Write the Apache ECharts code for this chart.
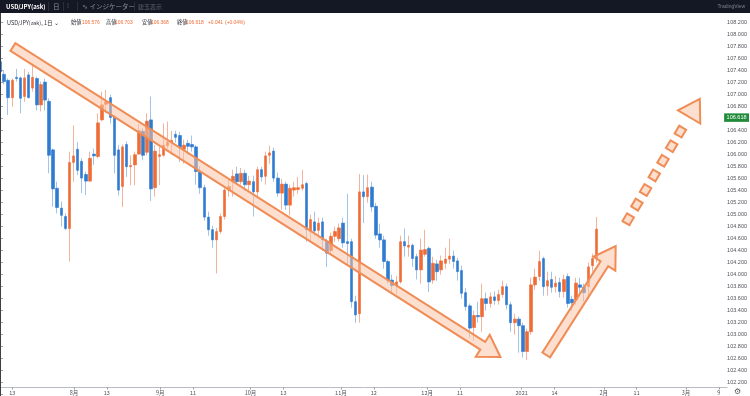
<!DOCTYPE html>
<html><head><meta charset="utf-8">
<script src="https://cdn.jsdelivr.net/npm/echarts@6/dist/echarts.min.js"></script>
<style>html,body{margin:0;padding:0;background:#fff;overflow:hidden}#c{width:750px;height:396px}</style>
</head><body><div id="c"></div>
<script>
// ---- data (USD/JPY ask, daily) ----
const openP  = [107.55,107.34,107.24,106.95,107.29,107.28,106.97,107.33,107.11,107.27,106.83,107.21,106.89,106.08,105.44,105.11,104.97,104.77,105.87,106.09,
105.89,105.67,105.56,106.01,105.97,106.58,106.84,106.95,106.63,106.08,105.47,106.17,105.80,105.83,106.01,106.39,106.04,106.58,105.45,105.97,
105.99,106.15,106.21,106.34,106.32,106.09,106.19,106.17,106.13,105.72,105.45,104.96,104.75,104.58,104.72,104.97,105.41,105.55,105.68,105.55,
105.69,105.50,105.55,105.38,105.75,105.64,105.99,106.06,105.61,105.36,105.51,105.16,105.41,105.42,105.44,105.52,104.72,104.88,104.74,104.88,
104.56,104.40,104.64,104.60,104.86,104.55,104.55,103.55,103.35,105.38,105.30,105.46,105.14,104.68,104.58,104.22,103.91,103.82,103.88,104.55,
104.46,104.49,104.30,104.08,104.34,104.44,103.91,104.18,104.08,104.19,104.26,104.31,104.23,104.07,103.70,103.48,103.12,103.32,103.30,103.60,
103.52,103.63,103.57,103.67,103.80,103.50,103.20,103.26,103.15,102.72,103.05,103.83,103.97,104.27,103.81,103.92,103.80,103.87,103.72,103.97,
103.59,103.58,103.83,103.79,103.80,104.15,104.27];
const closeP = [107.38,107.22,106.95,107.24,107.27,106.94,107.28,106.95,107.29,106.83,107.17,106.91,105.99,105.43,105.12,104.99,104.77,105.87,105.98,105.74,
105.61,105.56,105.94,105.98,106.53,106.83,106.88,106.62,105.99,105.41,106.13,105.80,105.82,106.00,106.40,105.99,106.56,105.43,106.06,106.00,
106.16,106.21,106.24,106.29,106.12,106.16,106.14,106.13,105.72,105.45,104.96,104.75,104.58,104.72,104.97,105.41,105.47,105.64,105.55,105.69,
105.50,105.56,105.38,105.75,105.63,105.98,106.03,105.61,105.36,105.51,105.16,105.44,105.45,105.45,105.50,104.75,104.92,104.73,104.86,104.58,
104.36,104.64,104.72,104.78,104.53,104.52,103.55,103.33,105.38,105.30,105.45,105.13,104.66,104.58,104.22,103.91,103.82,103.88,104.55,104.48,
104.49,104.27,104.08,104.41,104.42,103.88,104.19,104.05,104.23,104.26,104.31,104.22,104.05,103.69,103.47,103.11,103.32,103.30,103.60,103.52,
103.63,103.57,103.67,103.80,103.50,103.20,103.26,103.15,102.72,103.05,103.83,103.96,104.22,103.80,103.90,103.79,103.86,103.72,103.92,103.52,
103.53,103.86,103.79,103.70,104.13,104.27,104.76];
const lowP   = [107.30,107.17,106.66,106.80,107.22,106.69,106.88,106.94,107.05,106.74,106.72,106.74,105.69,105.13,105.02,104.80,104.74,104.22,105.55,105.66,
105.36,105.33,105.55,105.83,105.94,106.56,106.70,106.52,105.69,105.32,105.13,105.63,105.49,105.49,106.00,105.91,105.99,105.23,105.30,105.49,
105.97,106.10,106.00,106.20,105.88,105.85,106.00,106.05,105.50,105.35,104.90,104.65,104.45,104.02,104.68,104.92,105.30,105.30,105.50,105.50,
105.40,105.40,104.97,105.30,105.55,105.50,105.85,105.55,105.30,105.08,105.08,104.99,105.30,105.35,105.40,104.55,104.55,104.65,104.60,104.40,
104.13,104.35,104.55,104.55,104.45,104.15,103.45,103.20,103.20,104.86,105.20,105.05,104.60,104.45,104.10,103.85,103.70,103.68,103.85,104.30,
104.30,104.13,103.92,103.85,104.30,103.71,103.85,103.90,104.00,104.10,104.18,104.10,103.90,103.60,103.40,102.95,102.90,103.20,103.05,103.40,
103.45,103.50,103.50,103.62,103.42,103.05,103.00,102.70,102.62,102.58,103.00,103.75,103.90,103.65,103.65,103.70,103.70,103.62,103.62,103.45,
103.40,103.50,103.70,103.55,103.60,104.05,104.20];
const highP  = [107.62,107.41,107.27,107.27,107.43,107.30,107.43,107.38,107.52,107.30,107.22,107.27,106.94,106.10,105.55,105.22,105.02,106.05,106.49,106.21,
105.94,105.72,106.05,106.10,106.69,107.05,107.08,107.00,106.66,106.16,106.17,106.22,105.99,106.05,106.51,106.44,106.69,106.97,106.16,106.13,
106.52,106.55,106.40,106.40,106.38,106.25,106.25,106.32,106.16,105.80,105.50,105.05,104.82,104.78,105.02,105.47,105.60,105.75,105.80,105.78,
105.75,105.65,105.65,105.80,105.80,106.05,106.15,106.12,105.70,105.60,105.55,105.50,105.55,105.63,105.75,105.55,105.00,105.05,104.95,104.95,
104.60,104.70,104.80,104.85,104.95,105.35,104.60,103.65,105.68,105.66,105.67,105.55,105.20,104.85,104.65,104.25,104.00,103.98,104.65,104.77,
104.65,104.52,104.35,104.60,104.75,104.47,104.30,104.25,104.32,104.45,104.60,104.40,104.28,104.15,103.78,103.52,103.40,103.55,103.85,103.70,
103.70,103.72,103.75,103.90,103.85,103.55,103.35,103.30,103.20,103.10,103.95,104.10,104.40,104.30,104.05,104.05,103.98,103.95,104.00,104.02,
103.65,103.95,103.95,103.85,104.20,104.35,104.96];

// axis tick labels [category index, text]
const tickLabels = [[3,'13'],[18,'8月'],[26,'13'],[39,'9月'],[47,'11'],[61,'10月'],[69,'13'],[83,'11月'],[91,'12'],
  [104,'12月'],[112,'11'],[127,'2021'],[135,'14'],[147,'2月'],[155,'11'],[167,'3月'],[175,'9']];
const lastPrice = 106.618;
const ohlcHeader = [['始値','106.576'],['高値','106.703'],['安値','106.368'],['終値','106.618']];
const changeText = ['+0.041','(+0.04%)'];
// annotation arrows: [x-from (bar index), price-from, x-to, price-to, dashed]
const arrows = [
  [3.17, 107.795, 122.5, 102.628, 0],
  [133.7, 102.662, 150.7, 104.478, 0],
  [153.2, 104.86, 171.3, 106.93, 1]
];

// ---- categories: trading days from 2020-07-08 (Jan 1 closed) ----
const cats = [];
(function(){
  let d = new Date(Date.UTC(2020,6,8));
  while (cats.length < 178) {
    const wd = d.getUTCDay();
    const s = d.toISOString().slice(0,10);
    if (wd !== 0 && wd !== 6 && s !== '2021-01-01') cats.push(s);
    d = new Date(d.getTime() + 86400000);
  }
})();
const labelMap = {};
tickLabels.forEach(t => labelMap[t[0]] = t[1]);

const wickData = openP.map((o,i) => [o, closeP[i], lowP[i], highP[i]]);
const bodyData = openP.map((o,i) => [o, closeP[i], Math.min(o,closeP[i]), Math.max(o,closeP[i])]);

const UP = '#ef6c35', DOWN = '#2f7bd0', UPW = '#f4b39a', DOWNW = '#a3c4ea';
const JP = '"Noto Sans CJK JP","Noto Sans",sans-serif';
const LS = '"Liberation Sans",sans-serif';

function renderArrow(params, api) {
  const p1 = api.coord([api.value(0), api.value(1)]);
  const p2 = api.coord([api.value(2), api.value(3)]);
  const dashed = api.value(4);
  const dx = p2[0]-p1[0], dy = p2[1]-p1[1];
  const len = Math.sqrt(dx*dx+dy*dy);
  const ux = dx/len, uy = dy/len, nx = -uy, ny = ux;
  const w = 4.5, hw = 13, hl = 21;
  const bx = p2[0]-ux*hl, by = p2[1]-uy*hl;
  const style = {fill:'rgba(250,196,166,0.55)', stroke:'#f08c56', lineWidth:2, lineJoin:'miter'};
  const children = [];
  if (!dashed) {
    children.push({type:'polygon', shape:{points:[
      [p1[0]+nx*w, p1[1]+ny*w],[bx+nx*w, by+ny*w],[bx+nx*hw, by+ny*hw],[p2[0],p2[1]],
      [bx-nx*hw, by-ny*hw],[bx-nx*w, by-ny*w],[p1[0]-nx*w, p1[1]-ny*w]]}, style});
  } else {
    const dw = 4;
    const shaftLen = len - hl - 5;
    const dash = 9, gap = 8;
    for (let s = 0; s + dash <= shaftLen + 0.1; s += dash + gap) {
      const ax = p1[0]+ux*s, ay = p1[1]+uy*s, ex = p1[0]+ux*(s+dash), ey = p1[1]+uy*(s+dash);
      children.push({type:'polygon', shape:{points:[[ax+nx*dw,ay+ny*dw],[ex+nx*dw,ey+ny*dw],[ex-nx*dw,ey-ny*dw],[ax-nx*dw,ay-ny*dw]]}, style});
    }
    children.push({type:'polygon', shape:{points:[[bx+nx*dw,by+ny*dw],[bx+nx*hw,by+ny*hw],[p2[0],p2[1]],[bx-nx*hw,by-ny*hw],[bx-nx*dw,by-ny*dw]]}, style});
  }
  return {type:'group', children};
}

// header text pieces (x positions in the legend line)
const headerX = [[71,82],[106,115],[142,151],[177,186]];
const headerGraphics = [];
ohlcHeader.forEach((h, i) => {
  headerGraphics.push({type:'text', left:headerX[i][0], top:19.8, z:101, style:{text:h[0], fill:'#2a2e39', font:'5.3px '+JP}});
  headerGraphics.push({type:'text', left:headerX[i][1], top:20.2, z:101, style:{text:h[1], fill:'#ef6c35', font:'4.9px '+LS}});
});
headerGraphics.push({type:'text', left:208, top:20.2, z:101, style:{text:changeText[0], fill:'#ef6c35', font:'4.9px '+LS}});
headerGraphics.push({type:'text', left:225, top:20.2, z:101, style:{text:changeText[1], fill:'#ef6c35', font:'4.9px '+LS}});

const chart = echarts.init(document.getElementById('c'), null, {renderer:'canvas'});
chart.setOption({
  animation: false,
  backgroundColor: '#ffffff',
  grid: [
    {left:0, right:23, top:10.7, bottom:1.3},
    {left:0, right:23, top:387, height:1}
  ],
  xAxis: [
    {type:'category', gridIndex:0, data:cats, boundaryGap:false, show:false},
    {type:'category', gridIndex:1, data:cats, boundaryGap:false,
      axisLine:{lineStyle:{color:'#b9bcc2', width:1}},
      axisTick:{interval:(i)=>labelMap[i]!==undefined, length:2, lineStyle:{color:'#9a9da3'}},
      axisLabel:{interval:(i)=>labelMap[i]!==undefined, formatter:(v,i)=>labelMap[i]||'', fontSize:5.5, color:'#50535b', margin:3, fontFamily:JP}},
    {type:'value', gridIndex:0, min:0, max:177, show:false}
  ],
  yAxis: [
    {type:'value', gridIndex:0, position:'right', min:102, max:108.4, interval:0.2,
      axisLine:{show:true, lineStyle:{color:'#c3c6cc'}},
      axisTick:{show:true, length:3, lineStyle:{color:'#a0a3a9'}},
      splitLine:{show:false},
      axisLabel:{formatter:(v)=> (v<102.15||v>108.25)?'':v.toFixed(3), fontSize:5.5, color:'#50535b', margin:4, fontFamily:LS}},
    {type:'value', gridIndex:1, show:false}
  ],
  series: [
    {type:'candlestick', name:'wick', xAxisIndex:0, yAxisIndex:0, data:wickData, barWidth:1, clip:true,
      itemStyle:{color:UPW, color0:DOWNW, borderColor:UPW, borderColor0:DOWNW, borderWidth:1}},
    {type:'candlestick', name:'body', xAxisIndex:0, yAxisIndex:0, data:bodyData, barWidth:3, clip:true,
      itemStyle:{color:UP, color0:DOWN, borderColor:UP, borderColor0:DOWN, borderWidth:0.6}},
    {type:'line', name:'last', xAxisIndex:0, yAxisIndex:0, data:[], symbol:'none', silent:true, z:20,
      markLine:{symbol:'none', silent:true, animation:false, precision:3, data:[{yAxis:lastPrice}],
        lineStyle:{color:'rgba(0,0,0,0)', width:0.1, type:'solid'},
        label:{show:true, position:'end', formatter:(p)=>Number(p.value).toFixed(3), backgroundColor:'#1f8b3b', color:'#ffffff',
          fontSize:5.5, padding:[1.5,2.5,1,2.5], distance:1, fontFamily:LS}}},
    {type:'custom', name:'arrows', xAxisIndex:2, yAxisIndex:0, data:arrows, renderItem:renderArrow,
      encode:{x:[0,2], y:[1,3]}, clip:false, z:5, silent:true}
  ],
  graphic: [
    {type:'rect', left:0, top:0, z:100, shape:{width:750, height:13}, style:{fill:'#141824'}},
    {type:'text', left:6, top:3.4, z:101, style:{text:'USD/JPY(ask)', fill:'#ffffff', font:'bold 6px '+JP}},
    {type:'rect', left:48, top:2, z:101, shape:{width:0.6, height:9}, style:{fill:'#3a3f4c'}},
    {type:'text', left:53, top:3.2, z:101, style:{text:'日', fill:'#8a8f9c', font:'6.5px '+JP}},
    {type:'rect', left:63, top:2, z:101, shape:{width:0.6, height:9}, style:{fill:'#3a3f4c'}},
    {type:'text', left:67, top:3, z:101, style:{text:'⫶', fill:'#8a8f9c', font:'7px "DejaVu Sans"'}},
    {type:'rect', left:77, top:2, z:101, shape:{width:0.6, height:9}, style:{fill:'#3a3f4c'}},
    {type:'text', left:82, top:3.2, z:101, style:{text:'∿ インジケーター', fill:'#8a8f9c', font:'6.5px '+JP}},
    {type:'rect', left:134, top:2, z:101, shape:{width:0.6, height:9}, style:{fill:'#3a3f4c'}},
    {type:'text', left:138, top:3.4, z:101, style:{text:'建玉表示', fill:'#5b606c', font:'6px '+JP}},
    {type:'text', right:5, top:4, z:101, style:{text:'TradingView', fill:'#7d8290', font:'5px '+LS}},
    {type:'text', left:7, top:19.8, z:101, style:{text:'USD/JPY(ask), 1日 ⌄', fill:'#2a2e39', font:'5.5px '+JP}},
    ...headerGraphics,
    {type:'rect', left:0, top:13, z:100, shape:{width:1, height:383}, style:{fill:'#3b3f48'}},
    {type:'text', left:734, top:388, z:101, style:{text:'⚙', fill:'#555a63', font:'8px "DejaVu Sans"'}}
  ]
});
</script></body></html>
